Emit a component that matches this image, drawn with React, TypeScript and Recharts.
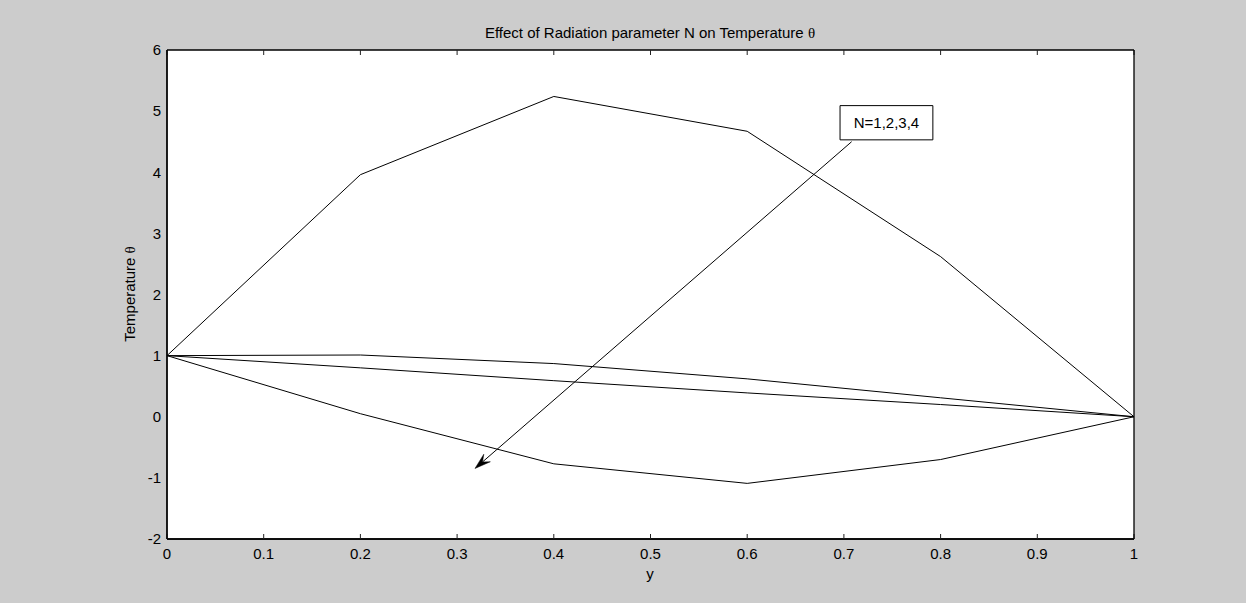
import React from "react";
import {
  LineChart,
  Line,
  XAxis,
  YAxis,
  CartesianGrid,
  ReferenceLine,
  ReferenceArea,
} from "recharts";

const yPositions = [0, 0.2, 0.4, 0.6, 0.8, 1];
const thetaN1 = [1, 3.96, 5.24, 4.67, 2.62, 0];
const thetaN2 = [1, 1.01, 0.87, 0.62, 0.31, 0];
const thetaN3 = [1, 0.8, 0.59, 0.39, 0.2, 0];
const thetaN4 = [1, 0.05, -0.77, -1.09, -0.7, 0];

const xTicks = [0, 0.1, 0.2, 0.3, 0.4, 0.5, 0.6, 0.7, 0.8, 0.9, 1];
const yTicks = [-2, -1, 0, 1, 2, 3, 4, 5, 6];

const annotationText = "N=1,2,3,4";
const boxX = [0.696, 0.792];
const boxY = [4.53, 5.09];
const arrowFrom = { x: 0.708, y: 4.5 };
const arrowTo = { x: 0.3185, y: -0.846 };

const data = yPositions.map((y, i) => ({
  y,
  n1: thetaN1[i],
  n2: thetaN2[i],
  n3: thetaN3[i],
  n4: thetaN4[i],
}));

const FONT = "'Liberation Sans', Arial, sans-serif";

const NoLabel = () => <g />;

const ArrowShape = (p: any) => {
  const { x1, y1, x2, y2 } = p;
  if ([x1, y1, x2, y2].some((v) => typeof v !== "number" || isNaN(v))) return null;
  const dx = x2 - x1;
  const dy = y2 - y1;
  const len = Math.sqrt(dx * dx + dy * dy) || 1;
  const ux = dx / len;
  const uy = dy / len;
  const px = -uy;
  const py = ux;
  const L = 16;
  const W = 5;
  const notch = 10;
  const bx = x2 - ux * L;
  const by = y2 - uy * L;
  const nx = x2 - ux * notch;
  const ny = y2 - uy * notch;
  const pts = [
    [x2, y2],
    [bx + px * W, by + py * W],
    [nx, ny],
    [bx - px * W, by - py * W],
  ]
    .map((q) => q.join(","))
    .join(" ");
  return (
    <g>
      <line x1={x1} y1={y1} x2={nx} y2={ny} stroke="#000" strokeWidth={1} />
      <polygon points={pts} fill="#000" stroke="#000" strokeWidth={0.5} />
    </g>
  );
};

const frameAxisLine = { stroke: "#000", strokeWidth: 1.3 };
const frameTickLine = { stroke: "#222" };

export default function App() {
  return (
    <div
      style={{
        position: "relative",
        width: 1246,
        height: 603,
        background: "#cccccc",
        fontFamily: FONT,
        color: "#000",
      }}
    >
      <style>{"body{margin:0;}"}</style>
      <LineChart
        width={1246}
        height={603}
        data={data}
        margin={{ top: 50, right: 112, bottom: 34, left: 117 }}
      >
        <CartesianGrid stroke="none" fill="#ffffff" horizontal={false} vertical={false} />
        {/* label axes */}
        <XAxis
          dataKey="y"
          type="number"
          domain={[0, 1]}
          ticks={xTicks}
          height={30}
          tickSize={0}
          tickMargin={9}
          interval={0}
          axisLine={frameAxisLine}
          tickLine={false}
          tick={{ fontSize: 15, fill: "#000", fontFamily: FONT }}
          allowDataOverflow
        />
        <YAxis
          type="number"
          domain={[-2, 6]}
          ticks={yTicks}
          width={50}
          tickSize={0}
          tickMargin={6}
          interval={0}
          axisLine={frameAxisLine}
          tickLine={false}
          tick={{ fontSize: 15, fill: "#000", fontFamily: FONT }}
          allowDataOverflow
        />
        {/* inward tick mark axes on all four sides */}
        <XAxis
          xAxisId="bm"
          dataKey="y"
          type="number"
          orientation="bottom"
          mirror
          domain={[0, 1]}
          ticks={xTicks}
          tickSize={5}
          interval={0}
          axisLine={frameAxisLine}
          tickLine={frameTickLine}
          tick={NoLabel}
        />
        <XAxis
          xAxisId="top"
          dataKey="y"
          type="number"
          orientation="top"
          mirror
          domain={[0, 1]}
          ticks={xTicks}
          tickSize={5}
          interval={0}
          axisLine={frameAxisLine}
          tickLine={frameTickLine}
          tick={NoLabel}
        />
        <YAxis
          yAxisId="lm"
          type="number"
          orientation="left"
          mirror
          domain={[-2, 6]}
          ticks={yTicks}
          tickSize={5}
          interval={0}
          axisLine={frameAxisLine}
          tickLine={frameTickLine}
          tick={NoLabel}
        />
        <YAxis
          yAxisId="right"
          type="number"
          orientation="right"
          mirror
          domain={[-2, 6]}
          ticks={yTicks}
          tickSize={5}
          interval={0}
          axisLine={frameAxisLine}
          tickLine={frameTickLine}
          tick={NoLabel}
        />
        <Line dataKey="n1" stroke="#000" strokeWidth={1} dot={false} isAnimationActive={false} type="linear" />
        <Line dataKey="n2" stroke="#000" strokeWidth={1} dot={false} isAnimationActive={false} type="linear" />
        <Line dataKey="n3" stroke="#000" strokeWidth={1} dot={false} isAnimationActive={false} type="linear" />
        <Line dataKey="n4" stroke="#000" strokeWidth={1} dot={false} isAnimationActive={false} type="linear" />
        <ReferenceLine
          segment={[arrowFrom, arrowTo]}
          stroke="#000"
          shape={ArrowShape}
        />
        <ReferenceArea
          x1={boxX[0]}
          x2={boxX[1]}
          y1={boxY[0]}
          y2={boxY[1]}
          fill="#ffffff"
          fillOpacity={1}
          stroke="#000"
          strokeWidth={1}
          label={{ value: annotationText, position: "center", fontSize: 15, fill: "#000", fontFamily: FONT }}
        />
      </LineChart>
      <div
        style={{
          position: "absolute",
          left: 650,
          top: 25,
          transform: "translateX(-50%)",
          fontSize: 15,
          lineHeight: "15px",
          whiteSpace: "nowrap",
        }}
      >
        Effect of Radiation parameter N on Temperature{" "}
        <span style={{ fontFamily: "'Liberation Serif', serif" }}>θ</span>
      </div>
      <div
        style={{
          position: "absolute",
          left: 650,
          top: 566,
          transform: "translateX(-50%)",
          fontSize: 15,
          lineHeight: "15px",
          whiteSpace: "nowrap",
        }}
      >
        y
      </div>
      <div
        style={{
          position: "absolute",
          left: 130,
          top: 294,
          transform: "translate(-50%, -50%) rotate(-90deg)",
          fontSize: 15,
          lineHeight: "15px",
          whiteSpace: "nowrap",
        }}
      >
        Temperature <span style={{ fontFamily: "'Liberation Serif', serif" }}>θ</span>
      </div>
    </div>
  );
}
